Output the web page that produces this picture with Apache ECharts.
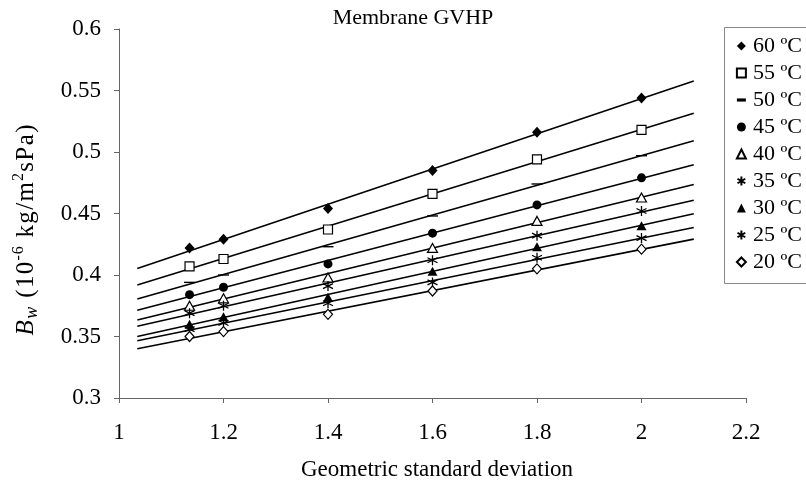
<!DOCTYPE html>
<html>
<head>
<meta charset="utf-8">
<script src="https://cdn.jsdelivr.net/npm/echarts@6/dist/echarts.min.js"></script>
<style>html,body{margin:0;padding:0;background:#fff;}#c{width:806px;height:481px;}</style>
</head>
<body>
<div id="c"></div>
<script>
// Geometric standard deviation (x) values
var xValues = [1.135, 1.2, 1.4, 1.6, 1.8, 2.0];
// Bw values per temperature
var t60 = [0.422, 0.429, 0.454, 0.485, 0.516, 0.544];
var t55 = [0.407, 0.413, 0.437, 0.466, 0.494, 0.518];
var t50 = [0.394, 0.400, 0.423, 0.448, 0.474, 0.497];
var t45 = [0.384, 0.390, 0.409, 0.434, 0.457, 0.479];
var t40 = [0.375, 0.381, 0.398, 0.422, 0.444, 0.463];
var t35 = [0.369, 0.375, 0.391, 0.412, 0.432, 0.452];
var t30 = [0.360, 0.366, 0.382, 0.403, 0.423, 0.440];
var t25 = [0.356, 0.361, 0.377, 0.394, 0.414, 0.430];
var t20 = [0.350, 0.354, 0.368, 0.387, 0.405, 0.421];
var seriesNames = ['60 ºC', '55 ºC', '50 ºC', '45 ºC', '40 ºC', '35 ºC', '30 ºC', '25 ºC', '20 ºC'];
var seriesValues = [t60, t55, t50, t45, t40, t35, t30, t25, t20];
// Trendline extent (Excel-style forecast backward/forward 0.1)
var trendRange = [1.035, 2.1];
var xTicks = [1, 2.2, 0.2];
var yTicks = [0.3, 0.6, 0.05];
// y-axis title pieces: [style, text]
var yTitleParts = [['b', 'B'], ['sub', 'w'], ['n', ' (10'], ['sup', '-6'], ['n', ' kg/m'], ['sup', '2'], ['n', 'sPa)']];

var FONT = 'Liberation Serif';
var star = 'path://M5,0 L5,10 M0.67,2.5 L9.33,7.5 M0.67,7.5 L9.33,2.5';
var styles = [
  {symbol: 'diamond', size: [10, 11], fill: '#000', stroke: '#000', bw: 0},
  {symbol: 'rect', size: 9, fill: '#fff', stroke: '#000', bw: 1.2},
  {symbol: 'path://M0,0 H10 V3.5 H0 Z', size: [11, 4], fill: '#000', stroke: '#000', bw: 0, keep: true},
  {symbol: 'circle', size: 9, fill: '#000', stroke: '#000', bw: 0},
  {symbol: 'triangle', size: [10, 9], fill: '#fff', stroke: '#000', bw: 1.2},
  {symbol: star, size: 10, fill: 'none', stroke: '#000', bw: 1.3},
  {symbol: 'triangle', size: [10, 9], fill: '#000', stroke: '#000', bw: 0},
  {symbol: star, size: 10, fill: 'none', stroke: '#000', bw: 1.3},
  {symbol: 'diamond', size: [9, 10], fill: '#fff', stroke: '#000', bw: 1.2}
];

function fit(xs, ys) {
  var n = xs.length, sx = 0, sy = 0, sxx = 0, sxy = 0;
  for (var i = 0; i < n; i++) { sx += xs[i]; sy += ys[i]; sxx += xs[i]*xs[i]; sxy += xs[i]*ys[i]; }
  var b = (n*sxy - sx*sy) / (n*sxx - sx*sx);
  var a = (sy - b*sx) / n;
  return [[trendRange[0], a + b*trendRange[0]], [trendRange[1], a + b*trendRange[1]]];
}

var series = [];
seriesValues.forEach(function (vals, i) {
  series.push({
    name: 'fit' + i, type: 'line', data: fit(xValues, vals), symbol: 'none',
    lineStyle: {color: '#000', width: 1.6}, silent: true, z: 2, animation: false
  });
});
seriesValues.forEach(function (vals, i) {
  var s = styles[i];
  series.push({
    name: seriesNames[i], type: 'scatter',
    data: xValues.map(function (x, j) { return [x, vals[j]]; }),
    symbol: s.symbol, symbolSize: s.size, symbolKeepAspect: !!s.keep,
    itemStyle: {color: s.fill, borderColor: s.stroke, borderWidth: s.bw, opacity: 1},
    z: 5, animation: false
  });
});

// y title rich text
var yTitleText = yTitleParts.map(function (p) {
  return p[1].split('').map(function (ch) { return '{' + p[0] + '|' + ch + '}'; }).join('');
}).join('');
var LS = 0.7;
var yRich = {
  b: {fontFamily: FONT, fontStyle: 'italic', fontSize: 25, lineHeight: 30, verticalAlign: 'middle', padding: [0, LS]},
  sub: {fontFamily: FONT, fontStyle: 'italic', fontSize: 18, lineHeight: 30, verticalAlign: 'bottom', padding: [0, LS]},
  n: {fontFamily: FONT, fontSize: 25, lineHeight: 30, verticalAlign: 'middle', padding: [0, LS]},
  sup: {fontFamily: FONT, fontSize: 16, lineHeight: 30, verticalAlign: 'top', padding: [0, LS * 0.6]}
};

var chart = echarts.init(document.getElementById('c'));
chart.setOption({
  backgroundColor: '#fff',
  animation: false,
  grid: {left: 119, right: 60, top: 29, bottom: 83},
  xAxis: {
    type: 'value', min: xTicks[0], max: xTicks[1], interval: xTicks[2],
    splitLine: {show: false},
    axisLine: {lineStyle: {color: '#666', width: 1}},
    axisTick: {show: true, length: 5, lineStyle: {color: '#666'}},
    axisLabel: {color: '#000', fontFamily: FONT, fontSize: 23, margin: 23}
  },
  yAxis: {
    type: 'value', min: yTicks[0], max: yTicks[1], interval: yTicks[2],
    splitLine: {show: false},
    axisLine: {show: true, lineStyle: {color: '#666', width: 1}},
    axisTick: {show: true, length: 5, lineStyle: {color: '#666'}},
    axisLabel: {color: '#000', fontFamily: FONT, fontSize: 23, margin: 18}
  },
  legend: {
    data: seriesNames, orient: 'vertical', left: 724, top: 27,
    padding: [8, 0, 0, 11], itemGap: 5, itemWidth: 9, itemHeight: 9,
    borderWidth: 0, z: 10,
    textStyle: {fontFamily: FONT, fontSize: 22, color: '#000', padding: [0, 0, 0, 2]}
  },
  graphic: [
    {type: 'rect', z: 1, shape: {x: 724.5, y: 27.5, width: 120, height: 256}, style: {fill: '#fff', stroke: '#888', lineWidth: 1}},
    {type: 'text', x: 413, y: 18, style: {text: 'Membrane GVHP', font: '22px "Liberation Serif"', fill: '#000', align: 'center', verticalAlign: 'middle'}},
    {type: 'text', x: 437, y: 470, style: {text: 'Geometric standard deviation', font: '23px "Liberation Serif"', fill: '#000', align: 'center', verticalAlign: 'middle'}},
    {type: 'text', x: 26, y: 230, rotation: Math.PI / 2,
      style: {text: yTitleText, align: 'center', verticalAlign: 'middle', rich: yRich}
    }
  ],
  series: series
});
</script>
</body>
</html>
